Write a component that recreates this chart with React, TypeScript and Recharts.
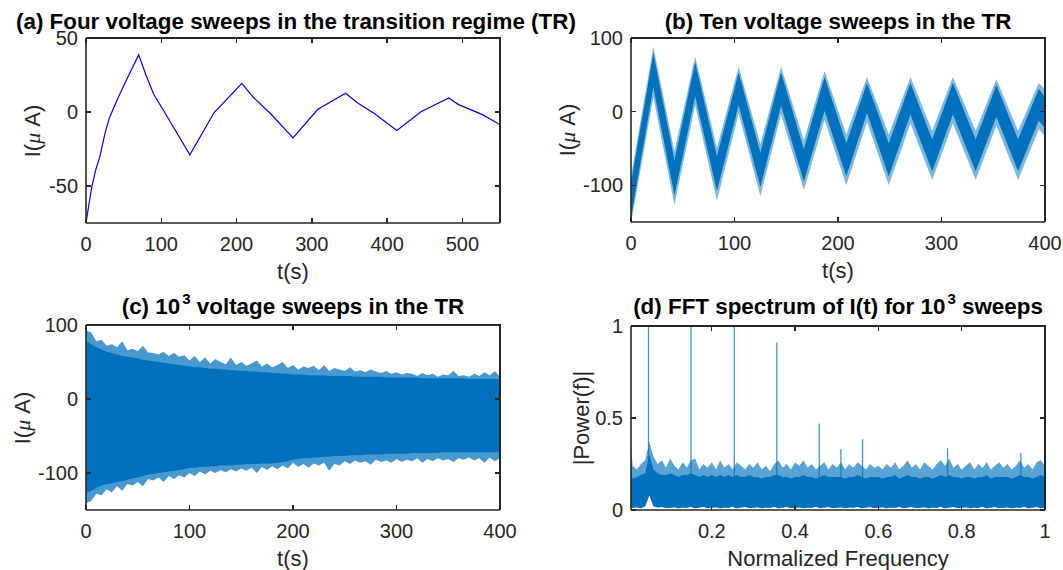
import React from 'react';
import { ComposedChart, Line, Area, XAxis, YAxis } from 'recharts';

const INK = '#262626';
const BLUE = '#0072BD';
const FONT = '"Liberation Sans", Arial, Helvetica, sans-serif';

// (a) four sweeps
const sweepTime = [0, 4, 8, 13, 18.5, 25, 31, 42, 55, 70, 80, 90, 106, 138, 170, 207, 222, 246, 275, 308, 345, 360, 383, 413, 445, 482, 495, 526, 550];
const sweepCurrent = [-75, -62, -50, -39, -30, -15, -4, 9, 23, 38.6, 24.5, 12, -1.5, -29, -0.5, 19.3, 10, -1.5, -17.5, 1.8, 12.7, 6.4, -1, -12.5, 0.2, 9.5, 5, -1.6, -8.5];

// (b) ten sweeps, band read as [low edge, high edge] at each turning point
const tenTime = [0, 21.6, 42, 62, 83, 104, 125, 145, 167, 187, 208, 228, 249, 270, 291, 311, 333, 353, 374, 394, 400];
const tenCoreLow = [-145, 33, -114, 21, -108, 9, -102, 8, -95, 1, -88, -2, -88, -4, -81, -4, -81, -7, -81, -12, -23];
const tenCoreHigh = [-97, 80, -66, 67, -61, 53, -56, 53, -51, 47, -43, 39, -43, 39, -38, 39, -38, 36, -38, 31, 20];
const tenFuzzLow = [-152, 20, -127, 9, -121, -3, -115, -4, -107, -11, -100, -14, -100, -16, -93, -16, -93, -19, -93, -24, -33];
const tenFuzzHigh = [-88, 88, -54, 75, -49, 61, -44, 61, -39, 55, -31, 47, -31, 47, -26, 47, -26, 44, -26, 39, 30];

// (c) 10^3 sweeps, envelope every 5 s
const manyTime = Array.from({ length: 81 }, (_, i) => i * 5);
const manyTipHigh = [93, 90, 78, 80, 72, 74, 70, 78, 66, 68, 65, 72, 63, 62, 60, 64, 58, 62, 57, 59, 52, 58, 50, 56, 48, 54, 50, 47, 56, 46, 50, 45, 48, 52, 44, 48, 43, 46, 50, 42, 46, 40, 44, 42, 45, 39, 46, 38, 42, 40, 38, 43, 37, 39, 36, 40, 37, 35, 38, 34, 36, 33, 35, 34, 31, 35, 32, 34, 30, 33, 32, 38, 31, 32, 30, 34, 31, 36, 32, 38, 30];
const manyCoreHigh = [78, 74, 70, 67, 64, 62, 60, 58, 57, 56, 55, 53, 52, 51, 50, 49, 48, 47, 46, 45, 44, 43, 43, 42, 41, 41, 40, 40, 39, 39, 38, 38, 37, 37, 36, 36, 35, 35, 34, 34, 33, 33, 33, 32, 32, 32, 32, 31, 31, 31, 31, 31, 30, 30, 30, 30, 30, 30, 29, 29, 29, 29, 29, 29, 29, 28, 28, 28, 28, 28, 28, 28, 28, 28, 27, 27, 27, 27, 27, 27, 27];
const manyCoreLow = [-127, -124, -120, -117, -115, -114, -112, -111, -109, -107, -106, -104, -102, -101, -100, -99, -98, -97, -96, -95, -93, -93, -92, -92, -91, -91, -90, -90, -90, -89, -89, -88, -88, -88, -87, -87, -87, -86, -85, -84, -82, -81, -80, -80, -79, -79, -78, -78, -77, -77, -77, -76, -76, -76, -75, -75, -75, -75, -74, -74, -74, -74, -74, -73, -73, -73, -73, -73, -73, -72, -72, -72, -72, -72, -72, -72, -72, -72, -72, -72, -72];
const manyTipLow = [-141, -138, -128, -130, -122, -126, -118, -124, -115, -117, -112, -118, -108, -110, -106, -112, -104, -108, -103, -106, -100, -104, -98, -102, -97, -100, -96, -99, -95, -98, -94, -97, -93, -100, -92, -96, -91, -95, -90, -94, -86, -92, -88, -93, -87, -90, -86, -97, -88, -90, -84, -88, -83, -86, -84, -89, -82, -85, -83, -86, -81, -85, -82, -84, -80, -86, -81, -84, -80, -83, -81, -85, -80, -82, -79, -83, -80, -86, -79, -84, -80];

// (d) FFT spectrum, noise floor every 0.01
const freq = [0.006, ...Array.from({ length: 100 }, (_, i) => +((i + 1) / 100).toFixed(2))];
const floorTip = [0.34, 0.24, 0.22, 0.25, 0.27, 0.37, 0.29, 0.25, 0.27, 0.23, 0.28, 0.24, 0.22, 0.26, 0.23, 0.27, 0.28, 0.22, 0.25, 0.23, 0.26, 0.22, 0.27, 0.23, 0.25, 0.22, 0.26, 0.24, 0.22, 0.25, 0.23, 0.26, 0.22, 0.24, 0.21, 0.25, 0.27, 0.23, 0.25, 0.22, 0.26, 0.24, 0.27, 0.23, 0.25, 0.22, 0.24, 0.26, 0.22, 0.25, 0.23, 0.26, 0.22, 0.25, 0.23, 0.26, 0.24, 0.22, 0.25, 0.23, 0.24, 0.22, 0.25, 0.23, 0.26, 0.22, 0.24, 0.27, 0.23, 0.25, 0.22, 0.26, 0.24, 0.22, 0.25, 0.27, 0.24, 0.28, 0.23, 0.25, 0.22, 0.24, 0.26, 0.22, 0.25, 0.23, 0.26, 0.22, 0.24, 0.26, 0.23, 0.25, 0.22, 0.24, 0.27, 0.23, 0.25, 0.22, 0.26, 0.27, 0.24];
const floorCore = [0.21, 0.17, 0.18, 0.19, 0.2, 0.3, 0.22, 0.2, 0.19, 0.19, 0.2, 0.19, 0.18, 0.19, 0.19, 0.2, 0.19, 0.18, 0.19, 0.18, 0.19, 0.18, 0.19, 0.18, 0.19, 0.18, 0.19, 0.18, 0.18, 0.19, 0.18, 0.18, 0.17, 0.18, 0.18, 0.19, 0.19, 0.18, 0.18, 0.17, 0.18, 0.18, 0.19, 0.18, 0.18, 0.17, 0.18, 0.19, 0.18, 0.18, 0.18, 0.18, 0.17, 0.18, 0.18, 0.19, 0.18, 0.17, 0.18, 0.18, 0.18, 0.17, 0.18, 0.18, 0.19, 0.17, 0.18, 0.19, 0.18, 0.18, 0.17, 0.18, 0.18, 0.17, 0.18, 0.19, 0.18, 0.19, 0.18, 0.18, 0.17, 0.18, 0.18, 0.17, 0.18, 0.18, 0.19, 0.17, 0.18, 0.18, 0.18, 0.18, 0.17, 0.18, 0.19, 0.18, 0.18, 0.17, 0.18, 0.19, 0.18];
const floorLow = [0.01, 0.012, 0.015, 0.01, 0.02, 0.08, 0.02, 0.013, 0.016, 0.011, 0.012, 0.015, 0.01, 0.014, 0.012, 0.018, 0.01, 0.013, 0.016, 0.011, 0.012, 0.015, 0.01, 0.014, 0.012, 0.018, 0.01, 0.013, 0.016, 0.011, 0.012, 0.015, 0.01, 0.014, 0.012, 0.018, 0.01, 0.013, 0.016, 0.011, 0.012, 0.015, 0.01, 0.014, 0.012, 0.018, 0.01, 0.013, 0.016, 0.011, 0.012, 0.015, 0.01, 0.014, 0.012, 0.018, 0.01, 0.013, 0.016, 0.011, 0.012, 0.015, 0.01, 0.014, 0.012, 0.018, 0.01, 0.013, 0.016, 0.011, 0.012, 0.015, 0.01, 0.014, 0.012, 0.018, 0.01, 0.013, 0.016, 0.011, 0.012, 0.015, 0.01, 0.014, 0.012, 0.018, 0.01, 0.013, 0.016, 0.011, 0.012, 0.015, 0.01, 0.014, 0.012, 0.018, 0.01, 0.013, 0.016, 0.011, 0.012];
const peakFreq = [0.048, 0.15, 0.254, 0.356, 0.458, 0.51, 0.562, 0.766, 0.942];
const peakPower = [1, 1, 1, 0.91, 0.47, 0.33, 0.385, 0.335, 0.31];

const sweepRows = sweepTime.map((t, i) => ({ t, i: sweepCurrent[i] }));
const tenRows = tenTime.map((t, i) => ({
  t, lo: tenCoreLow[i], hi: tenCoreHigh[i], fLo: tenFuzzLow[i], fHi: tenFuzzHigh[i],
}));
const manyRows = manyTime.map((t, i) => ({
  t, tipLo: manyTipLow[i], tipHi: manyTipHigh[i], coreLo: manyCoreLow[i], coreHi: manyCoreHigh[i],
}));
const floorRows = freq.map((f, i) => ({ f, lo: floorLow[i], core: floorCore[i], tip: floorTip[i] }));
const spikeRows = peakFreq.flatMap((f, i) => [
  { f, p: 0.1 },
  { f, p: peakPower[i] },
  { f, p: null },
]);

const PAD_L = 75, PAD_T = 10, PAD_R = 26, PAD_B = 45;
const TICK = 5;
const LINE = 1.6;
const axisStyle = { stroke: INK, strokeWidth: LINE };
const tickStyle = { fill: INK, fontSize: 20, fontFamily: FONT };

type Box = { left: number; top: number; right: number; bottom: number };

// MATLAB-style box: top/right edges and inward ticks on all four sides
function Frame({ box, xDomain, xTicks, yDomain, yTicks }: { box: Box; xDomain: number[]; xTicks: number[]; yDomain: number[]; yTicks: number[] }) {
  const w = box.right - box.left;
  const h = box.bottom - box.top;
  const mark = (style: React.CSSProperties, key: string) => (
    <div key={key} style={{ position: 'absolute', background: INK, ...style }} />
  );
  return (
    <div style={{ position: 'absolute', left: box.left, top: box.top, width: w, height: h, pointerEvents: 'none' }}>
      {mark({ left: 0, top: -LINE / 2, width: w + LINE / 2, height: LINE }, 'top')}
      {mark({ left: w - LINE / 2, top: -LINE / 2, width: LINE, height: h + LINE / 2 }, 'right')}
      {xTicks.map((v) => {
        const x = ((v - xDomain[0]) / (xDomain[1] - xDomain[0])) * w - 0.7;
        return (
          <React.Fragment key={`x${v}`}>
            {mark({ left: x, top: 0, width: 1.4, height: TICK }, `xt${v}`)}
            {mark({ left: x, top: h - TICK, width: 1.4, height: TICK }, `xb${v}`)}
          </React.Fragment>
        );
      })}
      {yTicks.map((v) => {
        const y = ((yDomain[1] - v) / (yDomain[1] - yDomain[0])) * h - 0.7;
        return (
          <React.Fragment key={`y${v}`}>
            {mark({ left: 0, top: y, width: TICK, height: 1.4 }, `yl${v}`)}
            {mark({ left: w - TICK, top: y, width: TICK, height: 1.4 }, `yr${v}`)}
          </React.Fragment>
        );
      })}
    </div>
  );
}

function Panel(props: {
  box: Box; data: any[]; xKey: string;
  xDomain: number[]; xTicks: number[]; yDomain: number[]; yTicks: number[];
  children: React.ReactNode;
}) {
  const { box } = props;
  const width = box.right - box.left + PAD_L + PAD_R;
  const height = box.bottom - box.top + PAD_T + PAD_B;
  return (
    <>
      <div style={{ position: 'absolute', left: box.left - PAD_L, top: box.top - PAD_T }}>
        <ComposedChart width={width} height={height} data={props.data} margin={{ top: PAD_T, right: PAD_R, left: 0, bottom: 0 }}>
          <XAxis dataKey={props.xKey} type="number" domain={props.xDomain} ticks={props.xTicks} allowDataOverflow interval={0}
            height={PAD_B} tickSize={0} tickMargin={14} axisLine={axisStyle} tickLine={false} tick={tickStyle} />
          <YAxis type="number" domain={props.yDomain} ticks={props.yTicks} allowDataOverflow interval={0}
            width={PAD_L} tickSize={0} tickMargin={8} axisLine={axisStyle} tickLine={false} tick={tickStyle} />
          {props.children}
        </ComposedChart>
      </div>
      <Frame box={box} xDomain={props.xDomain} xTicks={props.xTicks} yDomain={props.yDomain} yTicks={props.yTicks} />
    </>
  );
}

const titleStyle: React.CSSProperties = {
  position: 'absolute', fontFamily: FONT, fontWeight: 'bold', fontSize: 22.4, lineHeight: '22px',
  color: '#000', whiteSpace: 'nowrap',
};
const labelStyle: React.CSSProperties = {
  position: 'absolute', fontFamily: FONT, fontSize: 22, lineHeight: '22px', color: INK, whiteSpace: 'nowrap',
};
const sup: React.CSSProperties = { fontSize: 15, position: 'relative', top: -10, marginLeft: 2 };

function XLabel({ cx, top, text }: { cx: number; top: number; text: string }) {
  return <div style={{ ...labelStyle, left: cx, top, transform: 'translateX(-50%)' }}>{text}</div>;
}

function YLabel({ cx, cy, children }: { cx: number; cy: number; children: React.ReactNode }) {
  return (
    <div style={{ ...labelStyle, left: cx, top: cy, transform: 'translate(-50%, -50%) rotate(-90deg)' }}>{children}</div>
  );
}

const current = (
  <>I(<span style={{ fontStyle: 'italic', fontFamily: '"Liberation Serif", serif' }}>μ</span> A)</>
);

const boxA = { left: 86, top: 38, right: 500, bottom: 223 };
const boxB = { left: 631, top: 38, right: 1045, bottom: 222 };
const boxC = { left: 86, top: 325, right: 500, bottom: 510 };
const boxD = { left: 631, top: 326, right: 1045, bottom: 510 };

export default function App() {
  return (
    <div style={{ position: 'fixed', left: 0, top: 0, width: 1063, height: 570, background: '#fff', overflow: 'hidden' }}>
      <Panel box={boxA} data={sweepRows} xKey="t" xDomain={[0, 550]} xTicks={[0, 100, 200, 300, 400, 500]} yDomain={[-75, 50]} yTicks={[-50, 0, 50]}>
        <Line dataKey="i" type="linear" stroke="#0000FF" strokeWidth={1.2} dot={false} isAnimationActive={false} />
      </Panel>
      <Panel box={boxB} data={tenRows} xKey="t" xDomain={[0, 400]} xTicks={[0, 100, 200, 300, 400]} yDomain={[-150, 100]} yTicks={[-100, 0, 100]}>
        <Area dataKey={(d: any) => [d.fLo, d.fHi]} type="linear" fill={BLUE} fillOpacity={0.5} stroke="none" isAnimationActive={false} />
        <Area dataKey={(d: any) => [d.lo, d.hi]} type="linear" fill={BLUE} fillOpacity={1} stroke="none" isAnimationActive={false} />
      </Panel>
      <Panel box={boxC} data={manyRows} xKey="t" xDomain={[0, 400]} xTicks={[0, 100, 200, 300, 400]} yDomain={[-150, 100]} yTicks={[-100, 0, 100]}>
        <Area dataKey={(d: any) => [d.tipLo, d.tipHi]} type="linear" fill={BLUE} fillOpacity={0.72} stroke="none" isAnimationActive={false} />
        <Area dataKey={(d: any) => [d.coreLo, d.coreHi]} type="linear" fill={BLUE} fillOpacity={1} stroke="none" isAnimationActive={false} />
      </Panel>
      <Panel box={boxD} data={floorRows} xKey="f" xDomain={[0.006, 1]} xTicks={[0.2, 0.4, 0.6, 0.8, 1]} yDomain={[0, 1]} yTicks={[0, 0.5, 1]}>
        <Area dataKey={(d: any) => [d.lo, d.tip]} type="linear" fill={BLUE} fillOpacity={0.65} stroke="none" isAnimationActive={false} />
        <Area dataKey={(d: any) => [d.lo, d.core]} type="linear" fill={BLUE} fillOpacity={1} stroke="none" isAnimationActive={false} />
        <Line data={spikeRows} dataKey="p" type="linear" stroke={BLUE} strokeWidth={1.3} strokeOpacity={0.75} dot={false} connectNulls={false} isAnimationActive={false} />
      </Panel>

      <div style={{ ...titleStyle, left: 16, top: 11 }}>(a) Four voltage sweeps in the transition regime (TR)</div>
      <div style={{ ...titleStyle, left: 838, top: 11, transform: 'translateX(-50%)' }}>(b) Ten voltage sweeps in the TR</div>
      <div style={{ ...titleStyle, left: 293, top: 296, transform: 'translateX(-50%)' }}>
        (c) 10<span style={sup}>3</span> voltage sweeps in the TR
      </div>
      <div style={{ ...titleStyle, left: 838, top: 296, transform: 'translateX(-50%)' }}>
        (d) FFT spectrum of I(t) for 10<span style={sup}>3</span> sweeps
      </div>

      <XLabel cx={293} top={261} text="t(s)" />
      <XLabel cx={838} top={260} text="t(s)" />
      <XLabel cx={293} top={548} text="t(s)" />
      <XLabel cx={838} top={548} text="Normalized Frequency" />

      <YLabel cx={33} cy={131}>{current}</YLabel>
      <YLabel cx={568} cy={130}>{current}</YLabel>
      <YLabel cx={23} cy={418}>{current}</YLabel>
      <YLabel cx={582} cy={418}>|Power(f)|</YLabel>
    </div>
  );
}
